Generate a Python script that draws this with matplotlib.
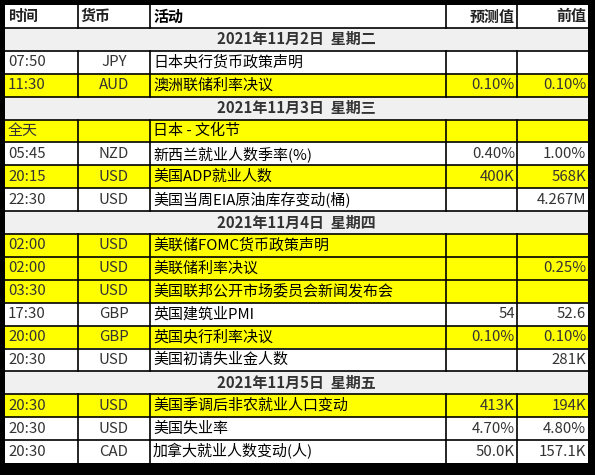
import matplotlib
matplotlib.use("Agg")
import matplotlib.pyplot as plt
from matplotlib.patches import Rectangle

plt.rcParams['font.family'] = ['Noto Sans CJK SC', 'DejaVu Sans']

headers = ["时间", "货币", "活动", "预测值", "前值"]
# rows: either ("date", text) or (time, currency, event, forecast, previous, highlighted)
rows = [
    ("date", "2021年11月2日  星期二"),
    ("07:50", "JPY", "日本央行货币政策声明", "", "", False),
    ("11:30", "AUD", "澳洲联储利率决议", "0.10%", "0.10%", True),
    ("date", "2021年11月3日  星期三"),
    ("全天", "", "日本 - 文化节", "", "", True),
    ("05:45", "NZD", "新西兰就业人数季率(%)", "0.40%", "1.00%", False),
    ("20:15", "USD", "美国ADP就业人数", "400K", "568K", True),
    ("22:30", "USD", "美国当周EIA原油库存变动(桶)", "", "4.267M", False),
    ("date", "2021年11月4日  星期四"),
    ("02:00", "USD", "美联储FOMC货币政策声明", "", "", True),
    ("02:00", "USD", "美联储利率决议", "", "0.25%", True),
    ("03:30", "USD", "美国联邦公开市场委员会新闻发布会", "", "", True),
    ("17:30", "GBP", "英国建筑业PMI", "54", "52.6", False),
    ("20:00", "GBP", "英国央行利率决议", "0.10%", "0.10%", True),
    ("20:30", "USD", "美国初请失业金人数", "", "281K", False),
    ("date", "2021年11月5日  星期五"),
    ("20:30", "USD", "美国季调后非农就业人口变动", "413K", "194K", True),
    ("20:30", "USD", "美国失业率", "4.70%", "4.80%", False),
    ("20:30", "CAD", "加拿大就业人数变动(人)", "50.0K", "157.1K", False),
]

W, H = 595, 475
fig = plt.figure(figsize=(W / 100, H / 100), dpi=100)
fig.patch.set_facecolor("black")
ax = fig.add_axes([0, 0, 1, 1])
ax.set_xlim(0, W)
ax.set_ylim(H, 0)
ax.axis("off")

x0, x1 = 5, 588
cols = [5, 78, 150, 446, 517, 588]
top, bottom = 5, 463
rh = (bottom - top) / (len(rows) + 1)
fs = 10.8
txt = "#333333"

ax.add_patch(Rectangle((x0, top), x1 - x0, bottom - top, facecolor="white", edgecolor="none"))


def cell_texts(y, vals, bold=False, color=txt):
    pad = 3
    w = "bold" if bold else "normal"
    ax.text(cols[0] + pad, y, vals[0], ha="left", va="center", fontsize=fs, color=color, weight=w)
    if bold:
        ax.text(cols[1] + pad, y, vals[1], ha="left", va="center", fontsize=fs, color=color, weight=w)
    else:
        ax.text((cols[1] + cols[2]) / 2, y, vals[1], ha="center", va="center", fontsize=fs, color=color)
    ax.text(cols[2] + pad, y, vals[2], ha="left", va="center", fontsize=fs, color="black", weight=w)
    ax.text(cols[4] - 2, y, vals[3], ha="right", va="center", fontsize=fs, color=color, weight=w)
    ax.text(cols[5] - 2, y, vals[4], ha="right", va="center", fontsize=fs, color=color, weight=w)


# header
yc = top + rh / 2
cell_texts(yc, headers, bold=True, color="#222222")
for c in cols[1:-1]:
    ax.plot([c, c], [top, top + rh], color="black", lw=1.2)

for i, r in enumerate(rows):
    ya = top + rh * (i + 1)
    yb = ya + rh
    if r[0] == "date":
        ax.add_patch(Rectangle((x0, ya), x1 - x0, rh, facecolor="#f0f0f0", edgecolor="none"))
        ax.text((x0 + x1) / 2, ya + rh / 2, r[1], ha="center", va="center",
                fontsize=fs, weight="bold", color="#333333")
    else:
        if r[5]:
            ax.add_patch(Rectangle((x0, ya), x1 - x0, rh, facecolor="#ffff00", edgecolor="none"))
        cell_texts(ya + rh / 2, r[:5])
        for c in cols[1:-1]:
            ax.plot([c, c], [ya, yb], color="black", lw=1.2)
    ax.plot([x0, x1], [ya, ya], color="black", lw=1.2)

fig.savefig("out.png", dpi=100, facecolor="black")
